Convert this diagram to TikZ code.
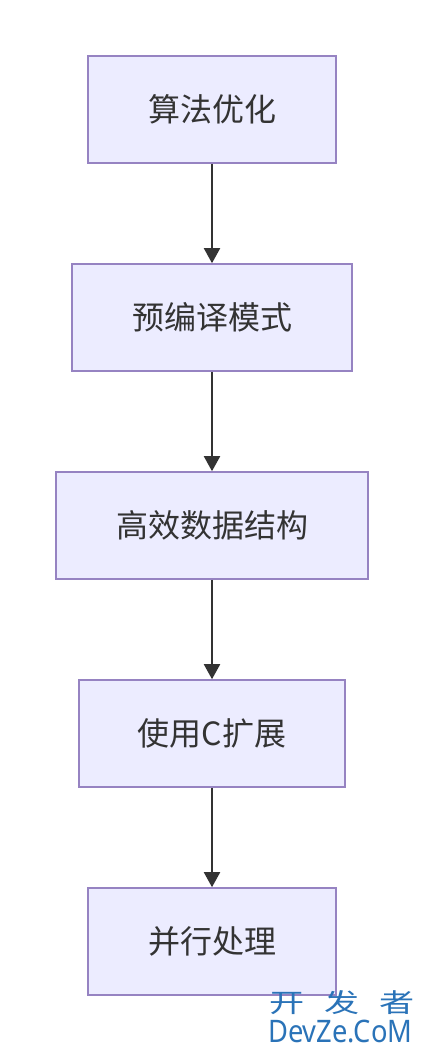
\documentclass[tikz,border=0pt]{standalone}
\usepackage{fontspec}
\setmainfont{Noto Sans}
\newfontfamily\cjk{Noto Sans CJK SC}
\usetikzlibrary{arrows.meta}
\definecolor{boxfill}{HTML}{ECECFF}
\definecolor{boxline}{HTML}{9683C2}
\definecolor{txt}{HTML}{333333}
\definecolor{wm}{HTML}{2A73B8}
\begin{document}
\begin{tikzpicture}[x=1pt,y=-1pt,
  stepbox/.style={draw=boxline,line width=1.6pt,fill=boxfill,minimum height=107pt,inner sep=0pt,text=txt,font=\cjk\fontsize{32}{38}\selectfont},
  flow/.style={draw=txt,line width=2pt,-{Triangle[width=16pt,length=15pt]}}]
\useasboundingbox (0,0) rectangle (424,1052);
\fill[white] (0,0) rectangle (424,1052);
\node[stepbox,minimum width=248pt] (a) at (212,109.5) {算法优化};
\node[stepbox,minimum width=280pt] (b) at (212,317.5) {预编译模式};
\node[stepbox,minimum width=312pt] (c) at (212,525.5) {高效数据结构};
\node[stepbox,minimum width=266pt] (d) at (212,733.5) {使用C扩展};
\node[stepbox,minimum width=248pt] (e) at (212,941.5) {并行处理};
\draw[flow] (a) -- (b);
\draw[flow] (b) -- (c);
\draw[flow] (c) -- (d);
\draw[flow] (d) -- (e);
\node[text=wm,font=\cjk\fontsize{26}{26}\selectfont,inner sep=0pt,anchor=west] (w1) at (269,1003) {\scalebox{1.35}[1]{开\hspace{15pt}发\hspace{15pt}者}};
\node[text=wm,font=\fontsize{31}{31}\selectfont,inner sep=0pt,anchor=west] (w2) at (268,1031) {\scalebox{0.88}[1]{DevZe.CoM}};
\end{tikzpicture}
\end{document}
